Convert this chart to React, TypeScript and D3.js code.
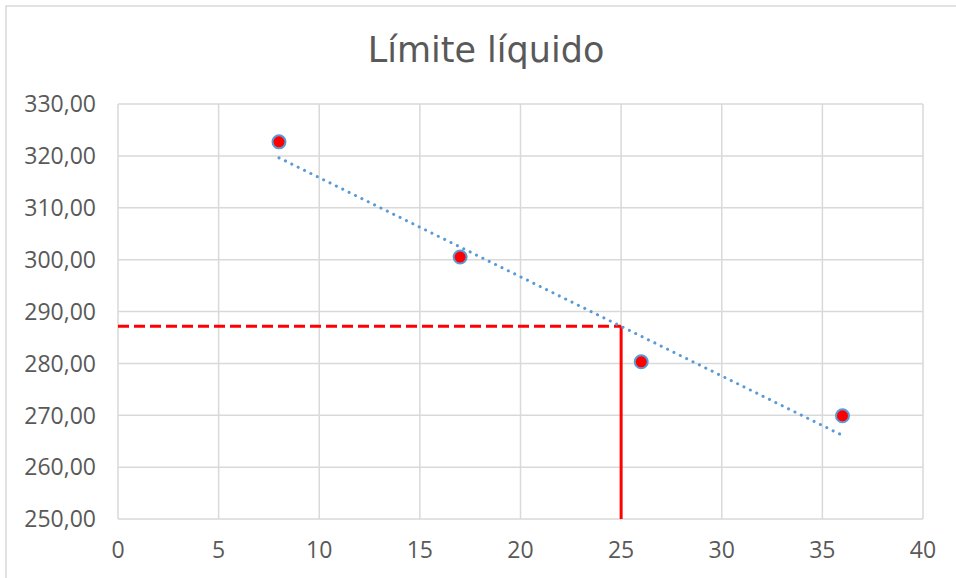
import React from 'react';
import * as d3 from 'd3';

// golpes vs humedad (%)
const golpes = [8, 17, 26, 36];
const humedad = [322.7, 300.5, 280.3, 269.9];
const xTicks = [0, 5, 10, 15, 20, 25, 30, 35, 40];
const yTicks = [250, 260, 270, 280, 290, 300, 310, 320, 330];
const golpesLL = 25;

const W = 956;
const H = 578;
const margin = { top: 104, right: 33, bottom: 59, left: 118 };
const TITLE_FONT = "'DejaVu Sans', sans-serif";
const FONT = "'Open Sans', 'DejaVu Sans', sans-serif";
const TEXT = '#595959';
const GRID = '#d9d9d9';
const BLUE = '#5b9bd5';
const RED = '#ff0000';

const fmt = (v: number) => v.toFixed(2).replace('.', ',');

// least squares line, same as the excel trendline
const linearFit = (xs: number[], ys: number[]) => {
  const mx = d3.mean(xs)!;
  const my = d3.mean(ys)!;
  const sxy = d3.sum(xs, (x, i) => (x - mx) * (ys[i] - my));
  const sxx = d3.sum(xs, (x) => (x - mx) ** 2);
  const b = sxy / sxx;
  return (x: number) => my + b * (x - mx);
};

const App: React.FC = () => {
  const innerW = W - margin.left - margin.right;
  const innerH = H - margin.top - margin.bottom;

  const x = d3.scaleLinear().domain([0, 40]).range([0, innerW]);
  const y = d3.scaleLinear().domain([250, 330]).range([innerH, 0]);

  const fit = linearFit(golpes, humedad);
  const [x0, x1] = d3.extent(golpes) as [number, number];
  const trend = d3.line<number>()
    .x((d) => x(d))
    .y((d) => y(fit(d)))([x0, x1]);
  const ll = fit(golpesLL);

  return (
    <svg width={W} height={H} style={{ position: 'absolute', left: 0, top: 0, background: '#fff' }}>
      <rect x={6} y={6} width={W + 10} height={H + 10} fill="#fff" stroke={GRID} strokeWidth={1.5} />
      <text x={486} y={62} textAnchor="middle" fontFamily={TITLE_FONT} fontSize={35} fill={TEXT}>
        Límite líquido
      </text>
      <g transform={`translate(${margin.left},${margin.top})`}>
        {yTicks.map((t) => (
          <g key={'y' + t}>
            <line x1={0} x2={innerW} y1={y(t)} y2={y(t)} stroke={GRID} strokeWidth={1.5} />
            <text x={-22} y={y(t)} dy="0.36em" textAnchor="end" fontFamily={FONT} fontSize={23} fill={TEXT}>
              {fmt(t)}
            </text>
          </g>
        ))}
        {xTicks.map((t) => (
          <g key={'x' + t}>
            <line x1={x(t)} x2={x(t)} y1={0} y2={innerH} stroke={GRID} strokeWidth={1.5} />
            <text x={x(t)} y={innerH + 39} textAnchor="middle" fontFamily={FONT} fontSize={23} fill={TEXT}>
              {t}
            </text>
          </g>
        ))}

        {/* lectura del limite liquido a 25 golpes */}
        <line x1={x(0)} x2={x(golpesLL)} y1={y(ll)} y2={y(ll)} stroke={RED} strokeWidth={3} strokeDasharray="11 5" />
        <line x1={x(golpesLL)} x2={x(golpesLL)} y1={y(ll)} y2={innerH} stroke={RED} strokeWidth={3} />

        <path d={trend || ''} fill="none" stroke={BLUE} strokeWidth={3} strokeLinecap="round" strokeDasharray="0.1 7" />

        {golpes.map((g, i) => (
          <circle key={g} cx={x(g)} cy={y(humedad[i])} r={6.5} fill={RED} stroke={BLUE} strokeWidth={2} />
        ))}
      </g>
    </svg>
  );
};

export default App;
